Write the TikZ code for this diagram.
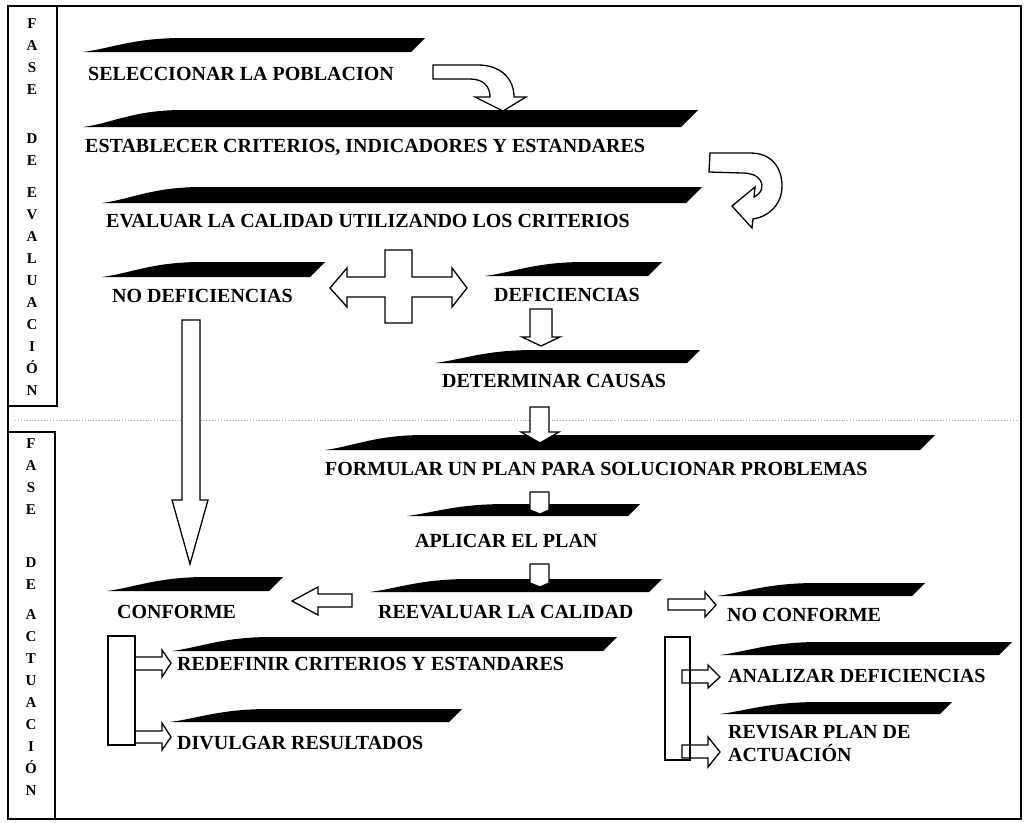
\documentclass[tikz,border=0pt]{standalone}
\usepackage{fontspec}
\setmainfont{Liberation Serif}
\newcommand{\wbar}[4]{\fill[black] (#1,#4) .. controls ({#1+30},{#4-4}) and ({#1+50},#3) .. ({#1+100},#3) -- (#2,#3) -- ({#2-#4+#3},#4) -- cycle;}
\begin{document}
\begin{tikzpicture}[x=1pt,y=-1pt,
  lbl/.style={anchor=base west, inner sep=0pt, font=\fontsize{20}{23}\selectfont\bfseries},
  col/.style={anchor=base, inner sep=0pt, font=\fontsize{15}{15}\selectfont\bfseries},
  harrow/.style={draw=black, fill=white, line width=1.3pt, line join=miter},
  frame/.style={draw=black, line width=1.6pt},
  brack/.style={draw=black, line width=1.3pt}]
\useasboundingbox (0,0) rectangle (1028,822);
% frame and phase boxes
\draw[frame] (8,6) rectangle (1021,819);
\draw[frame] (8,6) rectangle (57,406);
\draw[frame] (8,432) rectangle (55,819);
\draw[gray!70, dotted, line width=0.9pt] (15,420) -- (1016,420);
% phase letters
\foreach \l/\yy [count=\i] in {F/23,A/45,S/67,E/89,D/138,E/160,E/192,V/214,A/236,L/258,U/280,A/302,C/324,I/346,Ó/368,N/390}
  \node[col] (ev\i) at (32,\yy+5.5) {\l};
\foreach \l/\yy [count=\i] in {F/443,A/465,S/487,E/509,D/562,E/584,A/614,C/636,T/658,U/680,A/702,C/724,I/746,Ó/768,N/790}
  \node[col] (ac\i) at (31,\yy+5.5) {\l};
% bars
\wbar{83}{425}{38}{52}
\wbar{83}{698}{110}{127}
\wbar{102}{702}{187}{203}
\wbar{102}{325}{262}{277}
\wbar{485}{662}{262}{276}
\wbar{435}{700}{350}{363}
\wbar{325}{935}{435}{450}
\wbar{407}{640}{504}{516}
\wbar{370}{662}{579}{592}
\wbar{107}{283}{577}{591}
\wbar{172}{617}{637}{651}
\wbar{170}{462}{709}{722}
\wbar{717}{925}{583}{596}
\wbar{720}{1012}{642}{655}
\wbar{720}{952}{702}{714}
% labels
\node[lbl] (sel) at (88,80) {SELECCIONAR LA POBLACION};
\node[lbl] (est) at (85,152) {ESTABLECER CRITERIOS, INDICADORES Y ESTANDARES};
\node[lbl] (eva) at (106,227) {EVALUAR LA CALIDAD UTILIZANDO LOS CRITERIOS};
\node[lbl] (nodef) at (112,302) {NO DEFICIENCIAS};
\node[lbl] (def) at (494,301) {DEFICIENCIAS};
\node[lbl] (det) at (442,387) {DETERMINAR CAUSAS};
\node[lbl] (form) at (325,475) {FORMULAR UN PLAN PARA SOLUCIONAR PROBLEMAS};
\node[lbl] (apl) at (415,547) {APLICAR EL PLAN};
\node[lbl] (reev) at (378,618) {REEVALUAR LA CALIDAD};
\node[lbl] (conf) at (117,618) {CONFORME};
\node[lbl] (noconf) at (727,621) {NO CONFORME};
\node[lbl] (redef) at (177,670) {REDEFINIR CRITERIOS Y ESTANDARES};
\node[lbl] (div) at (177,749) {DIVULGAR RESULTADOS};
\node[lbl] (anal) at (728,682) {ANALIZAR DEFICIENCIAS};
\node[lbl, align=left, anchor=north west, font=\fontsize{20}{23}\selectfont\bfseries] (rev) at (728,725) {REVISAR PLAN DE\\ACTUACIÓN};
% curved arrows
\draw[harrow] (433,65) -- (478,65) .. controls (500,65) and (514,78) .. (514,97) -- (526,97) -- (503,111) -- (475,97) -- (490,97) .. controls (490,87) and (484,79) .. (470,79) -- (433,79) -- cycle;
\draw[harrow] (710,153) -- (750,153) .. controls (772,153) and (782,168) .. (782,186) .. controls (782,205) and (768,217) .. (753,219) -- (752,228) -- (732,206) -- (755,187) -- (754,197) .. controls (762,193) and (764,186) .. (760,180) .. controls (757,175) and (750,173) .. (742,173) -- (709,172) -- cycle;
% cross double arrow
\draw[harrow] (385,250) -- (412,250) -- (412,277) -- (452,277) -- (452,268) -- (467,288) -- (452,307) -- (452,297) -- (412,297) -- (412,323) -- (385,323) -- (385,297) -- (347,297) -- (347,307) -- (330,288) -- (347,268) -- (347,277) -- (385,277) -- cycle;
% long down arrow
\draw[harrow] (182,320) -- (200,320) -- (200,500) -- (208,500) -- (190,564) -- (172,500) -- (182,500) -- cycle;
% vertical chain arrows
\draw[harrow] (530,309) -- (552,309) -- (552,337) -- (560,337) -- (541,346) -- (522,337) -- (530,337) -- cycle;
\draw[harrow] (530,407) -- (549,407) -- (549,432) -- (559,432) -- (540,443) -- (521,432) -- (530,432) -- cycle;
\draw[harrow, line join=round] (530,492) -- (549,492) -- (549,510) -- (540,514) -- (530,510) -- cycle;
\draw[harrow, line join=round] (530,564) -- (549,564) -- (549,583) -- (540,587) -- (530,583) -- cycle;
% side arrows
\draw[harrow] (352,594) -- (318,594) -- (318,587) -- (292,601) -- (318,615) -- (318,607) -- (352,607) -- cycle;
\draw[harrow] (668,599) -- (705,599) -- (705,592) -- (716,605) -- (705,617) -- (705,610) -- (668,610) -- cycle;
% left bracket
\draw[harrow] (135,657) -- (162,657) -- (162,650) -- (171,663) -- (162,677) -- (162,670) -- (135,670) -- cycle;
\draw[harrow] (135,731) -- (162,731) -- (162,723) -- (171,737) -- (162,750) -- (162,743) -- (135,743) -- cycle;
\draw[brack] (108,636) rectangle (135,745);
% right bracket
\draw[harrow] (682,670) -- (708,670) -- (708,665) -- (720,677) -- (708,688) -- (708,683) -- (682,683) -- cycle;
\draw[harrow] (682,745) -- (708,745) -- (708,737) -- (720,752) -- (708,767) -- (708,758) -- (682,758) -- cycle;
\draw[brack] (665,637) rectangle (690,760);
\end{tikzpicture}
\end{document}
